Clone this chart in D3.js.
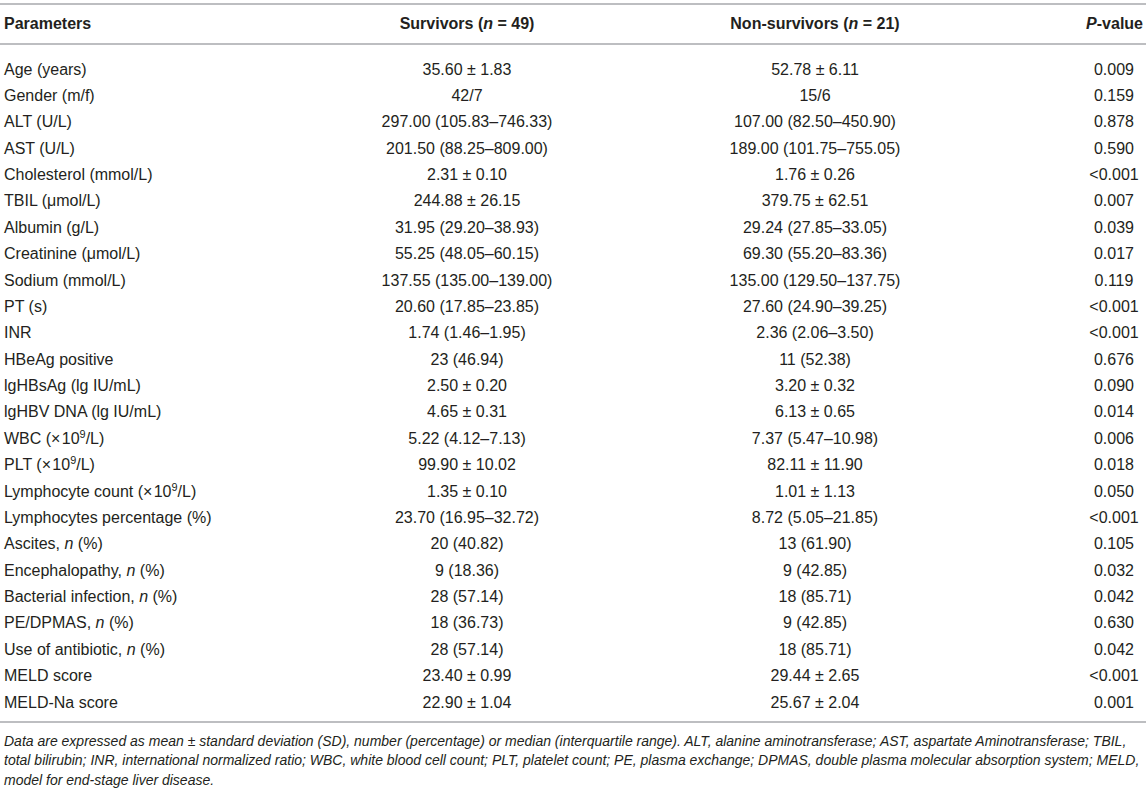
<!DOCTYPE html>
<html><head><meta charset="utf-8">
<script src="https://cdn.jsdelivr.net/npm/d3@7"></script>
<style>
html,body{margin:0;padding:0;background:#fff;}
svg{display:block;font-family:"Liberation Sans",Arial,Helvetica,sans-serif;}
</style></head>
<body>
<svg id="t" width="1146" height="792"></svg>
<script>
// ---- data ----
const headers = ["Parameters", "Survivors (_n_ = 49)", "Non-survivors (_n_ = 21)", "_P_-value"];
const parameters = [
  "Age (years)", "Gender (m/f)", "ALT (U/L)", "AST (U/L)", "Cholesterol (mmol/L)",
  "TBIL (\u03BCmol/L)", "Albumin (g/L)", "Creatinine (\u03BCmol/L)", "Sodium (mmol/L)", "PT (s)",
  "INR", "HBeAg positive", "lgHBsAg (lg IU/mL)", "lgHBV DNA (lg IU/mL)", "WBC (\u00D7\u200A10^9^/L)",
  "PLT (\u00D7\u200A10^9^/L)", "Lymphocyte count (\u00D7\u200A10^9^/L)", "Lymphocytes percentage (%)",
  "Ascites, _n_ (%)", "Encephalopathy, _n_ (%)", "Bacterial infection, _n_ (%)", "PE/DPMAS, _n_ (%)",
  "Use of antibiotic, _n_ (%)", "MELD score", "MELD-Na score"
];
const survivors = [
  "35.60 \u00B1 1.83", "42/7", "297.00 (105.83\u2013746.33)", "201.50 (88.25\u2013809.00)", "2.31 \u00B1 0.10",
  "244.88 \u00B1 26.15", "31.95 (29.20\u201338.93)", "55.25 (48.05\u201360.15)", "137.55 (135.00\u2013139.00)", "20.60 (17.85\u201323.85)",
  "1.74 (1.46\u20131.95)", "23 (46.94)", "2.50 \u00B1 0.20", "4.65 \u00B1 0.31", "5.22 (4.12\u20137.13)",
  "99.90 \u00B1 10.02", "1.35 \u00B1 0.10", "23.70 (16.95\u201332.72)", "20 (40.82)", "9 (18.36)",
  "28 (57.14)", "18 (36.73)", "28 (57.14)", "23.40 \u00B1 0.99", "22.90 \u00B1 1.04"
];
const nonSurvivors = [
  "52.78 \u00B1 6.11", "15/6", "107.00 (82.50\u2013450.90)", "189.00 (101.75\u2013755.05)", "1.76 \u00B1 0.26",
  "379.75 \u00B1 62.51", "29.24 (27.85\u201333.05)", "69.30 (55.20\u201383.36)", "135.00 (129.50\u2013137.75)", "27.60 (24.90\u201339.25)",
  "2.36 (2.06\u20133.50)", "11 (52.38)", "3.20 \u00B1 0.32", "6.13 \u00B1 0.65", "7.37 (5.47\u201310.98)",
  "82.11 \u00B1 11.90", "1.01 \u00B1 1.13", "8.72 (5.05\u201321.85)", "13 (61.90)", "9 (42.85)",
  "18 (85.71)", "9 (42.85)", "18 (85.71)", "29.44 \u00B1 2.65", "25.67 \u00B1 2.04"
];
const pValues = [
  "0.009", "0.159", "0.878", "0.590", "<0.001", "0.007", "0.039", "0.017", "0.119", "<0.001",
  "<0.001", "0.676", "0.090", "0.014", "0.006", "0.018", "0.050", "<0.001", "0.105", "0.032",
  "0.042", "0.630", "0.042", "<0.001", "0.001"
];
const footnote = [
  "Data are expressed as mean \u00B1 standard deviation (SD), number (percentage) or median (interquartile range). ALT, alanine aminotransferase; AST, aspartate Aminotransferase; TBIL,",
  "total bilirubin; INR, international normalized ratio; WBC, white blood cell count; PLT, platelet count; PE, plasma exchange; DPMAS, double plasma molecular absorption system; MELD,",
  "model for end-stage liver disease."
];

// ---- drawing ----
const W = 1146, H = 792;
const svg = d3.select("#t");
const textColor = "#231f20", ruleColor = "#a7a9ac";

const rowY = d3.scalePoint().domain(d3.range(parameters.length)).range([69, 702]);
const colX = [4, 467, 815, 1114];
const colAnchor = ["start", "middle", "middle", "middle"];

// rich text: _italic_ and ^superscript^
function rich(sel, str) {
  const parts = str.split(/(_[^_]+_|\^[^^]+\^)/).filter(s => s.length);
  parts.forEach(p => {
    if (p[0] === "_") sel.append("tspan").attr("font-style", "italic").text(p.slice(1, -1));
    else if (p[0] === "^") sel.append("tspan").attr("baseline-shift", "super").attr("font-size", "0.68em").text(p.slice(1, -1));
    else sel.append("tspan").text(p);
  });
}

// rules
[4, 44, 722].forEach(y => {
  svg.append("line").attr("x1", 0).attr("x2", W).attr("y1", y).attr("y2", y)
    .attr("stroke", ruleColor).attr("stroke-width", 1.5);
});

// header
headers.forEach((h, i) => {
  const t = svg.append("text")
    .attr("x", i === 3 ? 1143 : colX[i]).attr("y", 23).attr("dy", "0.35em")
    .attr("text-anchor", i === 3 ? "end" : colAnchor[i])
    .attr("font-size", 16).attr("font-weight", "bold").attr("fill", textColor);
  rich(t, h);
});

// body
const cols = [parameters, survivors, nonSurvivors, pValues];
cols.forEach((col, ci) => {
  svg.append("g").selectAll("text").data(col).join("text")
    .attr("x", colX[ci]).attr("y", (d, i) => rowY(i)).attr("dy", "0.35em")
    .attr("text-anchor", colAnchor[ci])
    .attr("font-size", 16).attr("fill", textColor)
    .each(function(d) { rich(d3.select(this), d); });
});

// footnote
svg.append("g").selectAll("text").data(footnote).join("text")
  .attr("x", 4).attr("y", (d, i) => 741 + i * 19.5).attr("dy", "0.35em")
  .attr("font-size", 14).attr("font-style", "italic").attr("fill", textColor)
  .text(d => d);
</script>
</body></html>
